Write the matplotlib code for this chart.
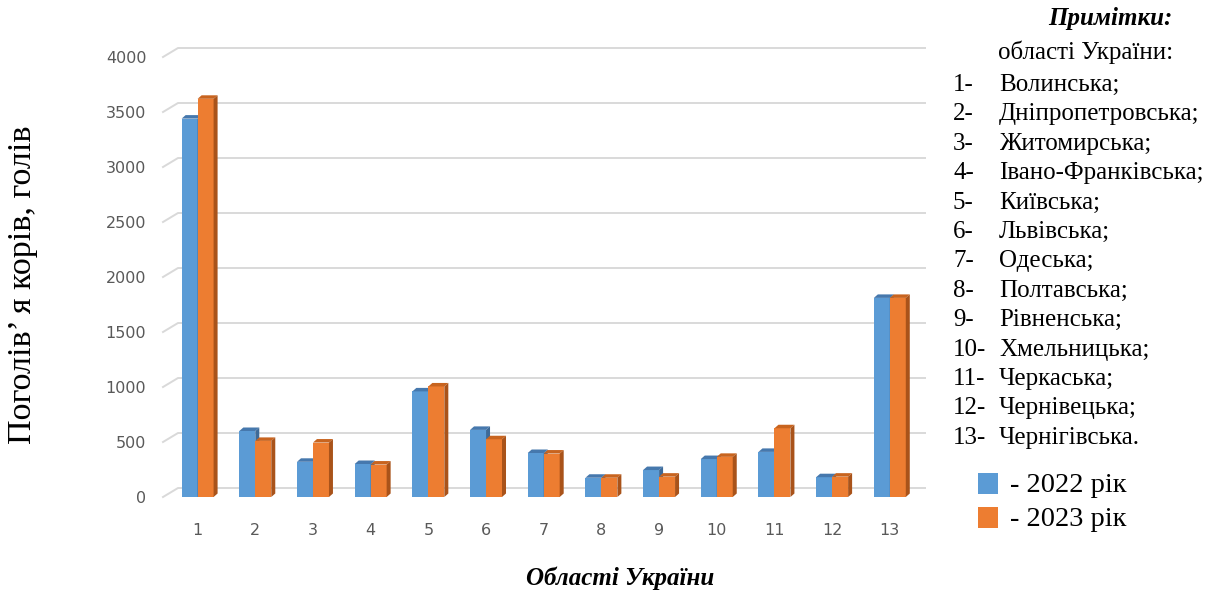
import matplotlib
matplotlib.use("Agg")
import matplotlib.pyplot as plt
from matplotlib.patches import Polygon
import numpy as np

# Cow population by region (head), 2022 vs 2023
regions = list(range(1, 14))
cows_2022 = [3440, 600, 320, 300, 960, 610, 400, 175, 245, 345, 410, 180, 1810]
cows_2023 = [3620, 510, 495, 295, 1005, 525, 395, 175, 185, 365, 625, 185, 1810]
y_ticks = [0, 500, 1000, 1500, 2000, 2500, 3000, 3500, 4000]
region_names = ["Волинська;", "Дніпропетровська;", "Житомирська;",
                "Івано-Франківська;", "Київська;", "Львівська;", "Одеська;",
                "Полтавська;", "Рівненська;", "Хмельницька;", "Черкаська;",
                "Чернівецька;", "Чернігівська."]
years = ["2022 рік", "2023 рік"]

BLUE, BLUE_TOP, BLUE_SIDE = "#5b9bd5", "#4678ad", "#3d6a98"
ORANGE, ORANGE_TOP, ORANGE_SIDE = "#ed7d31", "#c8641f", "#a9531a"
GRID = "#d9d9d9"
TICK = "#595959"
SERIF = "Liberation Serif"

W, H, DPI = 1222, 593, 100
fig = plt.figure(figsize=(W / DPI, H / DPI), dpi=DPI)

# axes box in pixels (front plane of the 3-D floor)
left_px, right_px, bottom_px, top_px = 163, 910, 497, 57
ax = fig.add_axes([left_px / W, 1 - bottom_px / H,
                   (right_px - left_px) / W, (bottom_px - top_px) / H])
xmin, xmax = 0.4, 13.35
ymin, ymax = 0, 4000
ax.set_xlim(xmin, xmax)
ax.set_ylim(ymin, ymax)

ux = (xmax - xmin) / (right_px - left_px)   # data units per pixel
uy = (ymax - ymin) / (bottom_px - top_px)

# back-wall gridlines with a slanted floor segment on the left
gdx, gdy = 15 * ux, 9 * uy
for t in y_ticks:
    ax.plot([xmin, xmin + gdx, xmax + gdx], [t, t + gdy, t + gdy],
            color=GRID, lw=1.4, clip_on=False, zorder=1)

x = np.array(regions, dtype=float)
bw = 0.277
ddx, ddy = 4 * ux, 3.5 * uy


def draw_series(xc, vals, front, top, side, z):
    ax.bar(xc, vals, bw, color=front, zorder=z, linewidth=0)
    for xi, v in zip(xc, vals):
        xl, xr = xi - bw / 2, xi + bw / 2
        ax.add_patch(Polygon([(xl, v), (xr, v), (xr + ddx, v + ddy),
                              (xl + ddx, v + ddy)], closed=True,
                             facecolor=top, edgecolor="none", zorder=z,
                             clip_on=False))
        ax.add_patch(Polygon([(xr, 0), (xr, v), (xr + ddx, v + ddy),
                              (xr + ddx, ddy)], closed=True,
                             facecolor=side, edgecolor="none", zorder=z,
                             clip_on=False))


draw_series(x - bw / 2, cows_2022, BLUE, BLUE_TOP, BLUE_SIDE, 3)
draw_series(x + bw / 2, cows_2023, ORANGE, ORANGE_TOP, ORANGE_SIDE, 4)

for s in ax.spines.values():
    s.set_visible(False)
ax.set_yticks(y_ticks)
ax.set_yticklabels([str(t) for t in y_ticks])
ax.set_xticks(regions)
ax.set_xticklabels([str(r) for r in regions])
ax.tick_params(axis="y", length=0, pad=12, labelsize=11.5, labelcolor=TICK)
ax.tick_params(axis="x", length=0, pad=19, labelsize=11.5, labelcolor=TICK)
ax.set_facecolor("none")

# axis titles
fig.text(23 / W, 1 - 285 / H, "Поголів’ я корів, голів", rotation=90,
         ha="center", va="center", fontsize=24.5, family=SERIF)
fig.text(620 / W, 1 - 578 / H, "Області України", ha="center", va="center",
         fontsize=18, family=SERIF, fontweight="bold", style="italic")

# notes block on the right
fig.text(1110 / W, 1 - 18 / H, "Примітки:", ha="center", va="center",
         fontsize=18, family=SERIF, fontweight="bold", style="italic")
fig.text(998 / W, 1 - 52 / H, "області України:", ha="left", va="center",
         fontsize=18, family=SERIF)
row0, step = 85, 29.4
for i, name in enumerate(region_names):
    yy = 1 - (row0 + i * step) / H
    fig.text(953 / W, yy, f"{i + 1}-", ha="left", va="center",
             fontsize=18, family=SERIF)
    fig.text(999 / W, yy, name, ha="left", va="center",
             fontsize=18, family=SERIF)

# colour key
for col, label, yc in [(BLUE, years[0], 484), (ORANGE, years[1], 518)]:
    fig.patches.append(plt.Rectangle((978 / W, 1 - (yc + 10) / H),
                                     20 / W, 21 / H, transform=fig.transFigure,
                                     facecolor=col, edgecolor="none"))
    fig.text(1010 / W, 1 - (yc + 2) / H, "- " + label, ha="left", va="center",
             fontsize=20.5, family=SERIF)

fig.savefig("out.png", dpi=DPI)
